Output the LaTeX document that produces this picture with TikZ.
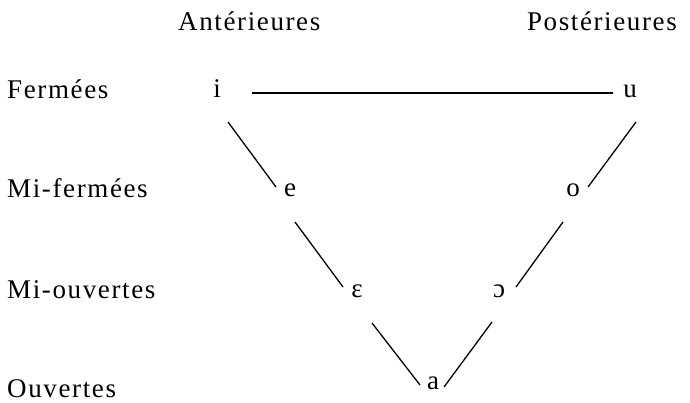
\documentclass[tikz,border=0pt]{standalone}
\usepackage{fontspec}
\setmainfont{Liberation Serif}[LetterSpace=6]
\begin{document}
\begin{tikzpicture}[x=1pt,y=-1pt,
  lab/.style={anchor=base west,inner sep=0pt,font=\fontsize{27}{32}\selectfont},
  vow/.style={anchor=base,inner sep=0pt,font=\fontsize{27}{32}\selectfont},
  seg/.style={line width=1.3pt}]
\useasboundingbox (0,0) rectangle (690,403);
\node[lab] (ant) at (178,31) {Antérieures};
\node[lab,anchor=base east] (post) at (677,31) {Postérieures};
\node[lab] (f) at (7,99) {Fermées};
\node[lab] (mf) at (7,198) {Mi-fermées};
\node[lab] (mo) at (7,298) {Mi-ouvertes};
\node[lab] (o) at (7,397) {Ouvertes};
\node[vow] (vi) at (217,98) {i};
\node[vow] (vu) at (630,98) {u};
\node[vow] (ve) at (290,197) {e};
\node[vow] (vo) at (573,197) {o};
\node[vow] (veps) at (357,297) {ɛ};
\node[vow] (vopen) at (499,297) {ɔ};
\node[vow] (va) at (433,389) {a};
\draw[seg] ([shift={(35,-5)}]vi.base) -- ([shift={(-17,-5)}]vu.base);
\draw[seg] ([shift={(11,24)}]vi.base) -- ([shift={(-14,-10)}]ve.base);
\draw[seg] ([shift={(5,25)}]ve.base) -- ([shift={(-14,-10)}]veps.base);
\draw[seg] ([shift={(15,26)}]veps.base) -- ([shift={(-13,-4)}]va.base);
\draw[seg] ([shift={(11,-2)}]va.base) -- ([shift={(-7,25)}]vopen.base);
\draw[seg] ([shift={(17,-10)}]vopen.base) -- ([shift={(-10,25)}]vo.base);
\draw[seg] ([shift={(15,-10)}]vo.base) -- ([shift={(6,24)}]vu.base);
\end{tikzpicture}
\end{document}
